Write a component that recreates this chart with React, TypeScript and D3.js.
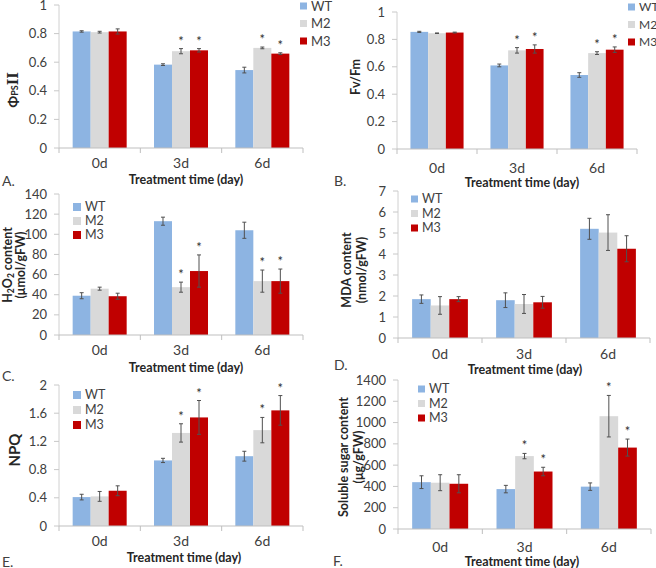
import React from "react";
import * as d3 from "d3";

const categories = ["0d", "3d", "6d"];
const series = ["WT", "M2", "M3"];
const colors = ["#8DB4E2", "#D9D9D9", "#C00000"];

// A: ΦPSII
const aWT = [0.815, 0.583, 0.545];
const aWTe = [0.005, 0.006, 0.02];
const aM2 = [0.81, 0.677, 0.70];
const aM2e = [0.006, 0.018, 0.006];
const aM3 = [0.815, 0.683, 0.66];
const aM3e = [0.018, 0.012, 0.006];
const aStars = [[false, false, false], [false, true, true], [false, true, true]];

// B: Fv/Fm
const bWT = [0.855, 0.61, 0.54];
const bWTe = [0.004, 0.01, 0.017];
const bM2 = [0.845, 0.72, 0.70];
const bM2e = [0.002, 0.02, 0.01];
const bM3 = [0.85, 0.73, 0.725];
const bM3e = [0.003, 0.03, 0.02];
const bStars = [[false, false, false], [false, true, true], [false, true, true]];

// C: H2O2
const cWT = [39, 113, 104];
const cWTe = [3, 4, 8];
const cM2 = [46, 47.5, 53.5];
const cM2e = [1.5, 5, 11];
const cM3 = [38.5, 63.5, 53.5];
const cM3e = [3, 16, 12];
const cStars = [[false, false, false], [false, true, true], [false, true, true]];

// D: MDA
const dWT = [1.85, 1.8, 5.2];
const dWTe = [0.2, 0.35, 0.5];
const dM2 = [1.55, 1.62, 5.02];
const dM2e = [0.42, 0.45, 0.85];
const dM3 = [1.85, 1.7, 4.25];
const dM3e = [0.12, 0.28, 0.62];
const dStars = [[false, false, false], [false, false, false], [false, false, false]];

// E: NPQ
const eWT = [0.41, 0.93, 0.99];
const eWTe = [0.04, 0.03, 0.07];
const eM2 = [0.42, 1.32, 1.36];
const eM2e = [0.07, 0.13, 0.18];
const eM3 = [0.50, 1.54, 1.64];
const eM3e = [0.07, 0.24, 0.21];
const eStars = [[false, false, false], [false, true, true], [false, true, true]];

// F: Soluble sugar
const fWT = [440, 375, 398];
const fWTe = [60, 35, 35];
const fM2 = [435, 685, 1060];
const fM2e = [75, 25, 195];
const fM3 = [425, 540, 765];
const fM3e = [85, 40, 80];
const fStars = [[false, false, false], [false, true, true], [false, true, true]];

const FONT = "Lato, 'Open Sans', sans-serif";
const TXT = "#404040";

type PanelProps = {
  vals: number[][];
  errs: number[][];
  stars: boolean[][];
  x0: number; x1: number; yTop: number; yBot: number;
  yMax: number; yStep: number;
  xLabelY: number; titleX: number; titleY: number;
  letter: string; letterX: number; letterY: number;
  legX: number; legY: number; legDy: number; legSize: number; legFont: number;
  yLabel: React.ReactNode;
};

function Panel(p: PanelProps) {
  const x = d3.scaleBand<string>().domain(categories).range([p.x0, p.x1]);
  const bw = x.bandwidth();
  const groupW = bw * 0.664;
  const xs = d3.scaleBand<string>().domain(series).range([(bw - groupW) / 2, (bw + groupW) / 2]);
  const y = d3.scaleLinear().domain([0, p.yMax]).range([p.yBot, p.yTop]);
  const ticks = d3.range(0, p.yMax + p.yStep / 2, p.yStep);
  const fmt = (d: number) => String(+d.toFixed(2));
  return (
    <g fontFamily={FONT}>
      <line x1={p.x0} x2={p.x0} y1={y(p.yMax)} y2={p.yBot} stroke="#D0D0D0" />
      {ticks.map((t) => (
        <g key={t}>
          <line x1={p.x0 - 5} x2={p.x0} y1={y(t)} y2={y(t)} stroke="#C8C8C8" />
          <text x={p.x0 - 12} y={y(t)} dy="0.35em" textAnchor="end" fontSize={13} fill={TXT}>{fmt(t)}</text>
        </g>
      ))}
      {categories.map((c, ci) => (
        <g key={c}>
          {series.map((s, si) => {
            const v = p.vals[si][ci];
            const e = p.errs[si][ci];
            const bx = (x(c) as number) + (xs(s) as number);
            const cx = bx + xs.bandwidth() / 2;
            return (
              <g key={s}>
                <rect x={bx} y={y(v)} width={xs.bandwidth()} height={p.yBot - y(v)} fill={colors[si]} />
                <line x1={cx} x2={cx} y1={y(v + e)} y2={y(v - e)} stroke="#505050" strokeWidth={1} />
                <line x1={cx - 2} x2={cx + 2} y1={y(v + e)} y2={y(v + e)} stroke="#505050" strokeWidth={1} />
                <line x1={cx - 2} x2={cx + 2} y1={y(v - e)} y2={y(v - e)} stroke="#505050" strokeWidth={1} />
                {p.stars[ci][si] && (
                  <text x={cx} y={y(v + e) - 3} textAnchor="middle" fontSize={13} fill="#303030">*</text>
                )}
              </g>
            );
          })}
        </g>
      ))}
      <line x1={p.x0} x2={p.x1} y1={p.yBot} y2={p.yBot} stroke="#BFBFBF" />
      {[...categories.map((c) => x(c) as number), p.x1].map((t, i) => (
        <line key={i} x1={t} x2={t} y1={p.yBot} y2={p.yBot + 5} stroke="#BFBFBF" />
      ))}
      {categories.map((c) => (
        <text key={c} x={(x(c) as number) + bw / 2} y={p.xLabelY} textAnchor="middle" fontSize={14} fill={TXT}>{c}</text>
      ))}
      <text x={p.titleX} y={p.titleY} textAnchor="middle" fontSize={12.5} fontWeight="bold" fill="#262626">Treatment time (day)</text>
      <text x={p.letterX} y={p.letterY} fontSize={14} fill={TXT}>{p.letter}</text>
      {series.map((s, si) => (
        <g key={s}>
          <rect x={p.legX} y={p.legY + si * p.legDy - p.legSize / 2} width={p.legSize} height={p.legSize} fill={colors[si]} />
          <text x={p.legX + p.legSize + 4} y={p.legY + si * p.legDy} dy="0.35em" fontSize={p.legFont} fill={TXT}>{s}</text>
        </g>
      ))}
      {p.yLabel}
    </g>
  );
}

export default function App() {
  return (
    <svg width={656} height={568} style={{ position: "absolute", left: 0, top: 0, background: "#fff" }}>
      <rect width={656} height={568} fill="#fff" />
      <Panel vals={[aWT, aM2, aM3]} errs={[aWTe, aM2e, aM3e]} stars={aStars}
        x0={59} x1={303} yTop={5} yBot={148} yMax={1} yStep={0.2}
        xLabelY={168} titleX={186} titleY={184} letter="A." letterX={2} letterY={186}
        legX={300} legY={6} legDy={17.5} legSize={7} legFont={13}
        yLabel={
          <text transform="translate(18,90) rotate(-90)" textAnchor="middle" fontWeight="bold" fill="#262626">
            <tspan fontSize={14} fontFamily={FONT}>Φ</tspan>
            <tspan fontSize={9} fontFamily={FONT}>PS</tspan>
            <tspan fontSize={14} fontFamily="'DejaVu Serif', serif">II</tspan>
          </text>
        } />
      <Panel vals={[bWT, bM2, bM3]} errs={[bWTe, bM2e, bM3e]} stars={bStars}
        x0={397} x1={637} yTop={12} yBot={149} yMax={1} yStep={0.2}
        xLabelY={173} titleX={522} titleY={187} letter="B." letterX={334} letterY={186}
        legX={628} legY={7} legDy={17.5} legSize={7} legFont={12}
        yLabel={
          <text transform="translate(360,77) rotate(-90)" textAnchor="middle" fontWeight="bold" fontSize={12.5} fill="#262626">Fv/Fm</text>
        } />
      <Panel vals={[cWT, cM2, cM3]} errs={[cWTe, cM2e, cM3e]} stars={cStars}
        x0={59} x1={303} yTop={194} yBot={335} yMax={140} yStep={20}
        xLabelY={355} titleX={186} titleY={372} letter="C." letterX={2} letterY={381}
        legX={73} legY={207} legDy={14} legSize={8} legFont={12.5}
        yLabel={
          <g>
            <text transform="translate(12,265) rotate(-90)" textAnchor="middle" fontWeight="bold" fontSize={12.5} fill="#262626">
              H<tspan fontSize={8.5} dy={2}>2</tspan><tspan dy={-2}>O</tspan><tspan fontSize={8.5} dy={2}>2</tspan><tspan dy={-2}> content</tspan>
            </text>
            <text transform="translate(25,265) rotate(-90)" textAnchor="middle" fontWeight="bold" fontSize={12.5} fill="#262626">(μmol/gFW)</text>
          </g>
        } />
      <Panel vals={[dWT, dM2, dM3]} errs={[dWTe, dM2e, dM3e]} stars={dStars}
        x0={398} x1={650} yTop={191} yBot={338} yMax={7} yStep={1}
        xLabelY={359} titleX={525} titleY={374} letter="D." letterX={334} letterY={370}
        legX={411} legY={199} legDy={14.5} legSize={7} legFont={12.5}
        yLabel={
          <g>
            <text transform="translate(351,270) rotate(-90)" textAnchor="middle" fontWeight="bold" fontSize={12.5} fill="#262626">MDA content</text>
            <text transform="translate(366,270) rotate(-90)" textAnchor="middle" fontWeight="bold" fontSize={12.5} fill="#262626">(nmol/gFW)</text>
          </g>
        } />
      <Panel vals={[eWT, eM2, eM3]} errs={[eWTe, eM2e, eM3e]} stars={eStars}
        x0={59} x1={303} yTop={385} yBot={526} yMax={2} yStep={0.4}
        xLabelY={546} titleX={184} titleY={562} letter="E." letterX={2} letterY={567}
        legX={73} legY={395} legDy={15} legSize={8} legFont={12.5}
        yLabel={
          <text transform="translate(20,450) rotate(-90)" textAnchor="middle" fontWeight="bold" fontSize={15} fill="#262626">NPQ</text>
        } />
      <Panel vals={[fWT, fM2, fM3]} errs={[fWTe, fM2e, fM3e]} stars={fStars}
        x0={398} x1={651} yTop={380} yBot={529} yMax={1400} yStep={200}
        xLabelY={552} titleX={522} titleY={566} letter="F." letterX={333} letterY={566}
        legX={418} legY={389} legDy={14.5} legSize={7} legFont={12.5}
        yLabel={
          <g>
            <text transform="translate(348,457) rotate(-90)" textAnchor="middle" fontWeight="bold" fontSize={12.5} fill="#262626">Soluble sugar content</text>
            <text transform="translate(363,457) rotate(-90)" textAnchor="middle" fontWeight="bold" fontSize={12.5} fill="#262626">(μg/gFW)</text>
          </g>
        } />
    </svg>
  );
}
